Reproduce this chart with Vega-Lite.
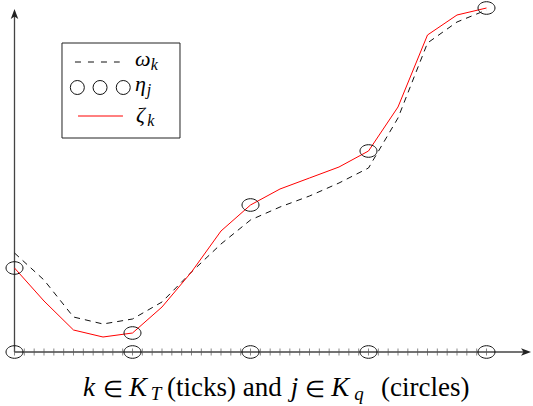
{
  "$schema": "https://vega.github.io/schema/vega-lite/v6.json",
  "width": 533,
  "height": 406,
  "padding": 0,
  "autosize": {"type": "none"},
  "background": "white",
  "config": {"view": {"stroke": null}},
  "datasets": {
    "zeta": [
      {"k": 0, "v": 84}, {"k": 3, "v": 51}, {"k": 6, "v": 22}, {"k": 9, "v": 15},
      {"k": 12, "v": 19}, {"k": 15, "v": 45}, {"k": 18, "v": 80}, {"k": 21, "v": 121},
      {"k": 24, "v": 147}, {"k": 27, "v": 163}, {"k": 30, "v": 174}, {"k": 33, "v": 185},
      {"k": 36, "v": 201}, {"k": 39, "v": 245}, {"k": 42, "v": 317}, {"k": 45, "v": 337},
      {"k": 48, "v": 344}
    ],
    "omega": [
      {"k": 0, "v": 99}, {"k": 3, "v": 72}, {"k": 6, "v": 35}, {"k": 9, "v": 28},
      {"k": 12, "v": 33}, {"k": 15, "v": 50}, {"k": 18, "v": 80}, {"k": 21, "v": 108},
      {"k": 24, "v": 132}, {"k": 27, "v": 145}, {"k": 30, "v": 156}, {"k": 33, "v": 169},
      {"k": 36, "v": 184}, {"k": 39, "v": 234}, {"k": 42, "v": 309}, {"k": 45, "v": 330},
      {"k": 48, "v": 342}
    ],
    "eta": [
      {"k": 0, "v": 84}, {"k": 12, "v": 19}, {"k": 24, "v": 147}, {"k": 36, "v": 201}, {"k": 48, "v": 344}
    ],
    "ticks": [
      {"k": 0}, {"k": 1}, {"k": 2}, {"k": 3}, {"k": 4}, {"k": 5}, {"k": 6}, {"k": 7}, {"k": 8}, {"k": 9},
      {"k": 10}, {"k": 11}, {"k": 12}, {"k": 13}, {"k": 14}, {"k": 15}, {"k": 16}, {"k": 17}, {"k": 18}, {"k": 19},
      {"k": 20}, {"k": 21}, {"k": 22}, {"k": 23}, {"k": 24}, {"k": 25}, {"k": 26}, {"k": 27}, {"k": 28}, {"k": 29},
      {"k": 30}, {"k": 31}, {"k": 32}, {"k": 33}, {"k": 34}, {"k": 35}, {"k": 36}, {"k": 37}, {"k": 38}, {"k": 39},
      {"k": 40}, {"k": 41}, {"k": 42}, {"k": 43}, {"k": 44}, {"k": 45}, {"k": 46}, {"k": 47}, {"k": 48}
    ],
    "legendCircles": [{"k": 6.39, "v": 264.5}, {"k": 8.7, "v": 264.5}, {"k": 11.06, "v": 264.5}],
    "legendGreek": [
      {"k": 12.25, "v": 286, "t": "ω"},
      {"k": 12.25, "v": 261, "t": "η"},
      {"k": 12.35, "v": 230, "t": "ζ"}
    ],
    "legendSub": [
      {"k": 13.85, "v": 282, "t": "k"},
      {"k": 13.45, "v": 257, "t": "j"},
      {"k": 13.5, "v": 226, "t": "k"}
    ],
    "labelSymbol": [
      {"k": 8.95, "v": -45, "t": "∈"},
      {"k": 29.55, "v": -45, "t": "∈"}
    ],
    "labelRoman": [
      {"k": 15.51, "v": -44, "t": "(ticks) and"},
      {"k": 37.27, "v": -44, "t": "(circles)"}
    ],
    "labelItalic": [
      {"k": 6.97, "v": -44, "t": "k"},
      {"k": 11.65, "v": -44, "t": "K"},
      {"k": 28.1, "v": -44, "t": "j"},
      {"k": 32.2, "v": -44, "t": "K"}
    ],
    "labelSub": [
      {"k": 13.85, "v": -48, "t": "T"},
      {"k": 34.55, "v": -48, "t": "q"}
    ]
  },
  "layer": [
    {
      "data": {"values": [{}]},
      "mark": {"type": "rule", "color": "#444", "strokeWidth": 1.3},
      "encoding": {
        "x": {"datum": 0, "type": "quantitative", "scale": {"domain": [-1.4746, 52.729], "nice": false, "zero": false}, "axis": null},
        "x2": {"datum": 52.0},
        "y": {"datum": 0, "type": "quantitative", "scale": {"domain": [-54, 352], "nice": false, "zero": false}, "axis": null}
      }
    },
    {
      "data": {"values": [{}]},
      "mark": {"type": "rule", "color": "#444", "strokeWidth": 1.3},
      "encoding": {
        "x": {"datum": 0, "type": "quantitative"},
        "y": {"datum": 0, "type": "quantitative"},
        "y2": {"datum": 338}
      }
    },
    {
      "data": {"values": [{}]},
      "mark": {"type": "point", "shape": "M1,0L-1,-0.75L-0.5,0L-1,0.75Z", "filled": true, "color": "#222", "size": 100, "opacity": 1},
      "encoding": {
        "x": {"datum": 52.02, "type": "quantitative"},
        "y": {"datum": 0, "type": "quantitative"}
      }
    },
    {
      "data": {"values": [{}]},
      "mark": {"type": "point", "shape": "M0,-1L-0.75,1L0,0.5L0.75,1Z", "filled": true, "color": "#222", "size": 100, "opacity": 1},
      "encoding": {
        "x": {"datum": 0, "type": "quantitative"},
        "y": {"datum": 338, "type": "quantitative"}
      }
    },
    {
      "data": {"name": "ticks"},
      "mark": {"type": "tick", "orient": "vertical", "color": "#555", "thickness": 1, "size": 7},
      "encoding": {
        "x": {"field": "k", "type": "quantitative"},
        "y": {"datum": 0, "type": "quantitative"}
      }
    },
    {
      "data": {"name": "omega"},
      "mark": {"type": "line", "color": "#111", "strokeWidth": 1, "strokeDash": [6, 5]},
      "encoding": {
        "x": {"field": "k", "type": "quantitative"},
        "y": {"field": "v", "type": "quantitative"}
      }
    },
    {
      "data": {"name": "zeta"},
      "mark": {"type": "line", "color": "#ff0000", "strokeWidth": 1},
      "encoding": {
        "x": {"field": "k", "type": "quantitative"},
        "y": {"field": "v", "type": "quantitative"}
      }
    },
    {
      "data": {"name": "eta"},
      "mark": {"type": "point", "shape": "M-1,0A1,0.74,0,1,1,1,0A1,0.74,0,1,1,-1,0Z", "filled": false, "color": "#111", "strokeWidth": 1, "size": 289, "opacity": 1},
      "encoding": {
        "x": {"field": "k", "type": "quantitative"},
        "y": {"field": "v", "type": "quantitative"}
      }
    },
    {
      "data": {"name": "eta"},
      "mark": {"type": "point", "shape": "M-1,0A1,0.74,0,1,1,1,0A1,0.74,0,1,1,-1,0Z", "filled": false, "color": "#111", "strokeWidth": 1, "size": 289, "opacity": 1},
      "encoding": {
        "x": {"field": "k", "type": "quantitative"},
        "y": {"datum": 0, "type": "quantitative"}
      }
    },
    {
      "data": {"values": [{}]},
      "mark": {"type": "rect", "fill": "white", "stroke": "#222", "strokeWidth": 1},
      "encoding": {
        "x": {"datum": 4.83, "type": "quantitative"},
        "x2": {"datum": 16.83},
        "y": {"datum": 309, "type": "quantitative"},
        "y2": {"datum": 214}
      }
    },
    {
      "data": {"values": [{}]},
      "mark": {"type": "rule", "color": "#111", "strokeWidth": 1, "strokeDash": [6, 7]},
      "encoding": {
        "x": {"datum": 6.15, "type": "quantitative"},
        "x2": {"datum": 10.7},
        "y": {"datum": 290, "type": "quantitative"}
      }
    },
    {
      "data": {"values": [{}]},
      "mark": {"type": "rule", "color": "#ff0000", "strokeWidth": 1},
      "encoding": {
        "x": {"datum": 6.46, "type": "quantitative"},
        "x2": {"datum": 11.03},
        "y": {"datum": 236, "type": "quantitative"}
      }
    },
    {
      "data": {"name": "legendCircles"},
      "mark": {"type": "point", "shape": "circle", "filled": false, "color": "#111", "strokeWidth": 1, "size": 196, "opacity": 1},
      "encoding": {
        "x": {"field": "k", "type": "quantitative"},
        "y": {"field": "v", "type": "quantitative"}
      }
    },
    {
      "data": {"name": "legendGreek"},
      "mark": {"type": "text", "font": "Liberation Serif", "fontStyle": "italic", "fontSize": 22, "align": "left", "baseline": "alphabetic", "color": "black"},
      "encoding": {
        "x": {"field": "k", "type": "quantitative"},
        "y": {"field": "v", "type": "quantitative"},
        "text": {"field": "t"}
      }
    },
    {
      "data": {"name": "legendSub"},
      "mark": {"type": "text", "font": "Liberation Serif", "fontStyle": "italic", "fontSize": 16, "align": "left", "baseline": "alphabetic", "color": "black"},
      "encoding": {
        "x": {"field": "k", "type": "quantitative"},
        "y": {"field": "v", "type": "quantitative"},
        "text": {"field": "t"}
      }
    },
    {
      "data": {"name": "labelSymbol"},
      "mark": {"type": "text", "font": "Liberation Serif", "fontSize": 23, "align": "left", "baseline": "alphabetic", "color": "black"},
      "encoding": {
        "x": {"field": "k", "type": "quantitative"},
        "y": {"field": "v", "type": "quantitative"},
        "text": {"field": "t"}
      }
    },
    {
      "data": {"name": "labelRoman"},
      "mark": {"type": "text", "font": "Liberation Serif", "fontSize": 27, "align": "left", "baseline": "alphabetic", "color": "black"},
      "encoding": {
        "x": {"field": "k", "type": "quantitative"},
        "y": {"field": "v", "type": "quantitative"},
        "text": {"field": "t"}
      }
    },
    {
      "data": {"name": "labelItalic"},
      "mark": {"type": "text", "font": "Liberation Serif", "fontStyle": "italic", "fontSize": 27, "align": "left", "baseline": "alphabetic", "color": "black"},
      "encoding": {
        "x": {"field": "k", "type": "quantitative"},
        "y": {"field": "v", "type": "quantitative"},
        "text": {"field": "t"}
      }
    },
    {
      "data": {"name": "labelSub"},
      "mark": {"type": "text", "font": "Liberation Serif", "fontStyle": "italic", "fontSize": 19, "align": "left", "baseline": "alphabetic", "color": "black"},
      "encoding": {
        "x": {"field": "k", "type": "quantitative"},
        "y": {"field": "v", "type": "quantitative"},
        "text": {"field": "t"}
      }
    }
  ]
}
